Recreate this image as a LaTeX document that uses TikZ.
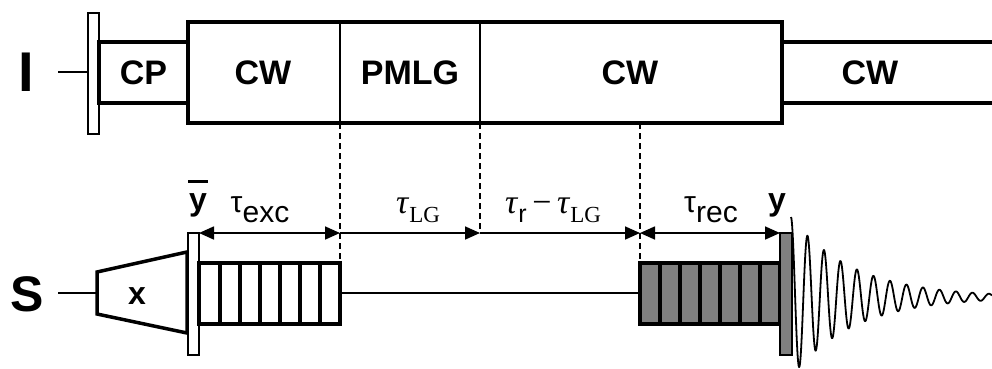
\documentclass[tikz,border=0pt]{standalone}
\usepackage{fontspec}
\setmainfont{Liberation Sans}
\newfontfamily\serifgreek{Liberation Serif}
\newfontfamily\sansfam{Liberation Sans}
\usetikzlibrary{arrows.meta}
\definecolor{pulsegray}{HTML}{808080}
\tikzset{
  heavy/.style={line width=3.5pt},
  medium/.style={line width=2.5pt},
  light/.style={line width=1.7pt},
  guide/.style={line width=1.8pt, dash pattern=on 6pt off 4pt},
  span/.style={line width=1.7pt},
  tip/.tip={Triangle[length=15pt,width=13pt]},
  lbl/.style={font=\bfseries\fontsize{34}{40}\selectfont, inner sep=0pt},
  chan/.style={font=\bfseries\fontsize{56}{60}\selectfont, inner sep=0pt},
  phase/.style={font=\bfseries\fontsize{32}{36}\selectfont, inner sep=0pt},
  tlab/.style={inner sep=0pt, anchor=base}
}
\newcommand{\sanstau}[1]{{\sansfam\fontsize{30}{34}\selectfont τ\raisebox{-10pt}{#1}}}
% letter with a bar over it (phase label)
\newcommand{\barred}[1]{\leavevmode\rlap{\hspace{-1pt}\rule[27pt]{20pt}{3pt}}#1}
\begin{document}
\begin{tikzpicture}[x=1pt,y=-1pt]
\useasboundingbox (0,0) rectangle (992,368);

% ---------- I channel ----------
\node[chan] (chI) at (26,72) {I};
\coordinate (iL) at (58,72);
\coordinate (iR) at (88,72);
\draw[medium] (iL) -- (iR);
\draw[medium, fill=white] (88,13) rectangle (99,134);
\draw[heavy] (99,42) rectangle (188,103);
\node[lbl] (cp) at (143.5,73) {CP};
\draw[heavy] (188,22) rectangle (782,123);
\draw[light] (340,22) -- (340,123);
\draw[light] (480,22) -- (480,123);
\draw[heavy] (992,42) -- (782,42) (782,103) -- (992,103);
\node[lbl] (cwa) at (263,73) {CW};
\node[lbl] (pmlg) at (410,73) {PMLG};
\node[lbl] (cwb) at (630,73) {CW};
\node[lbl] (cwc) at (870,73) {CW};

% ---------- S channel ----------
\node[chan, font=\bfseries\fontsize{50}{54}\selectfont] (chS) at (27,294) {S};
\coordinate (sL) at (58,293);
\coordinate (sR) at (97,293);
\draw[medium] (sL) -- (sR);
\draw[heavy, line join=miter] (97,272) -- (187,252) -- (187,333) -- (97,314) -- cycle;
\node[phase] (px) at (137,296) {x};
\draw[medium, fill=white] (188,233) rectangle (199,355);
\node[phase, anchor=base] (pyb) at (198,210) {\barred{y}};

% excitation block (white, striped)
\draw[heavy] (199,263) rectangle (340,324);
\foreach \k in {1,...,6} \draw[heavy] ({200+20*\k},263) -- ({200+20*\k},324);
% free evolution line
\draw[light] (340,293) -- (640,293);
% reconversion block (gray, striped)
\draw[heavy, fill=pulsegray] (640,263) rectangle (780,324);
\foreach \k in {1,...,6} \draw[heavy] ({640+20*\k},263) -- ({640+20*\k},324);
\draw[medium, fill=pulsegray] (780,233) rectangle (792,355);
\node[phase, anchor=base] (py) at (777,210) {y};

% FID, parameter in periods of 16.5pt
\draw[line width=1.8pt, line join=round]
  plot[domain=0:12.18, samples=500, variable=\t]
  ({791+16.5*\t}, {297 - 80*exp(-0.266*\t)*cos(360*\t)});

% ---------- timing marks ----------
\coordinate (t1) at (340,123);
\coordinate (t2) at (480,123);
\coordinate (t3) at (640,123);
\coordinate (b1) at (340,263);
\coordinate (b3) at (640,263);
\coordinate (e0) at (199,233);
\coordinate (e1) at (340,233);
\coordinate (e2) at (480,233);
\coordinate (e3) at (640,233);
\coordinate (e4) at (780,233);
\draw[guide] (t1) -- (b1);
\draw[guide] (t2) -- (e2);
\draw[guide] (t3) -- (b3);
\draw[span, {tip}-{tip}] (e0) -- (e1);
\draw[span, -{tip}] (e1) -- (e2);
\draw[span, -{tip}] (e2) -- (e3);
\draw[span, {tip}-{tip}] (e3) -- (e4);

\node[tlab] (texc) at (260,212) {\sanstau{exc}};
\node[tlab] (tlg) at (418,213) {\serifgreek\fontsize{34}{38}\selectfont\textit{τ}\raisebox{-9pt}{\fontsize{23}{26}\selectfont LG}};
\node[tlab] (trlg) at (553,213) {\serifgreek\fontsize{34}{38}\selectfont\textit{τ}\raisebox{-9pt}{\sansfam\fontsize{25}{28}\selectfont r}\,−\,\textit{τ}\raisebox{-9pt}{\fontsize{23}{26}\selectfont LG}};
\node[tlab] (trec) at (711,212) {\sanstau{rec}};
\end{tikzpicture}
\end{document}
